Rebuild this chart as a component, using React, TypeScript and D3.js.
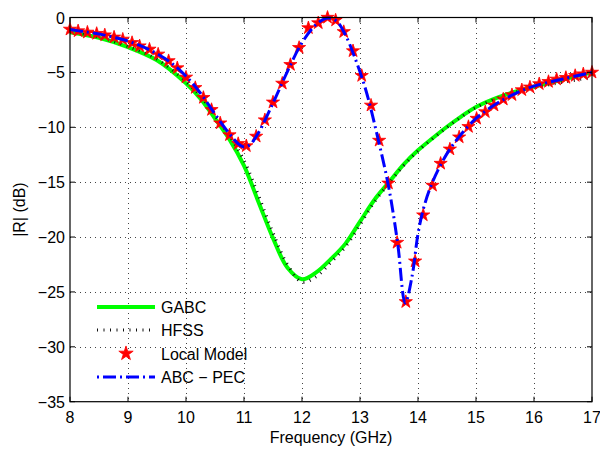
import React from "react";
import * as d3 from "d3";

// ---- Data ----
const xTicks = [8, 9, 10, 11, 12, 13, 14, 15, 16, 17];
const yTicks = [0, -5, -10, -15, -20, -25, -30, -35];

const gabcFreq = [8.0, 8.5, 9.0, 9.5, 10.0, 10.25, 10.5, 10.75, 11.0, 11.25, 11.5, 11.75, 12.0, 12.25, 12.5, 12.75, 13.0, 13.25, 13.5, 13.75, 14.0, 14.25, 14.5, 14.75, 15.0, 15.25, 15.5, 15.75, 16.0, 16.5, 17.0];
const gabcDb = [-1.35, -1.85, -2.7, -3.9, -6.0, -7.4, -9.2, -11.1, -13.5, -16.8, -20.1, -22.8, -23.85, -23.2, -22.0, -20.6, -18.6, -16.6, -15.0, -13.4, -12.1, -11.0, -9.95, -9.0, -8.15, -7.55, -7.05, -6.65, -6.3, -5.65, -5.0];

const hfssFreq = [8.0, 8.5, 9.0, 9.5, 10.0, 10.25, 10.5, 10.75, 11.0, 11.25, 11.5, 11.75, 12.0, 12.25, 12.5, 12.75, 13.0, 13.25, 13.5, 13.75, 14.0, 14.25, 14.5, 14.75, 15.0, 15.5, 16.0, 16.5, 17.0];
const hfssDb = [-1.3, -1.8, -2.65, -3.8, -5.85, -7.2, -8.95, -10.8, -13.0, -16.2, -19.6, -22.5, -24.1, -23.6, -22.3, -20.9, -18.9, -16.8, -15.1, -13.5, -12.15, -11.05, -10.0, -9.05, -8.2, -7.1, -6.4, -5.9, -5.45];

const localFreq = [8.0, 8.14, 8.3, 8.46, 8.6, 8.76, 8.91, 9.07, 9.2, 9.37, 9.52, 9.7, 9.85, 10.0, 10.16, 10.3, 10.44, 10.59, 10.75, 10.9, 11.04, 11.21, 11.36, 11.5, 11.66, 11.8, 11.95, 12.11, 12.28, 12.44, 12.58, 12.72, 12.88, 13.03, 13.19, 13.33, 13.49, 13.64, 13.79, 13.95, 14.09, 14.25, 14.39, 14.55, 14.71, 14.87, 15.01, 15.16, 15.31, 15.47, 15.62, 15.79, 15.93, 16.09, 16.25, 16.39, 16.55, 16.71, 16.85, 17.0];
const localDb = [-1.08, -1.23, -1.35, -1.47, -1.6, -1.8, -1.99, -2.3, -2.6, -2.9, -3.35, -3.95, -4.6, -5.45, -6.4, -7.3, -8.4, -9.62, -10.7, -11.5, -11.7, -10.83, -9.34, -7.72, -6.0, -4.3, -2.75, -0.95, -0.5, 0.0, -0.25, -1.3, -3.05, -5.3, -8.0, -11.2, -15.1, -20.5, -25.9, -22.2, -18.0, -15.3, -13.3, -12.0, -10.9, -9.95, -9.2, -8.6, -8.0, -7.45, -7.05, -6.6, -6.35, -6.05, -5.85, -5.63, -5.48, -5.3, -5.15, -5.0];

const abcFreq = [8.0, 8.25, 8.5, 8.75, 9.0, 9.25, 9.5, 9.75, 10.0, 10.25, 10.5, 10.75, 10.9, 11.0, 11.1, 11.25, 11.5, 11.75, 12.0, 12.25, 12.45, 12.6, 12.75, 12.9, 13.1, 13.3, 13.5, 13.65, 13.78, 13.9, 14.0, 14.1, 14.25, 14.5, 14.75, 15.0, 15.25, 15.5, 15.75, 16.0, 16.5, 17.0];
const abcDb = [-1.1, -1.3, -1.5, -1.8, -2.15, -2.65, -3.3, -4.15, -5.35, -6.9, -8.8, -10.6, -11.5, -11.8, -11.6, -10.5, -7.8, -4.9, -2.3, -0.6, -0.05, -0.35, -1.6, -3.5, -6.6, -10.8, -15.6, -20.6, -26.0, -23.5, -19.7, -17.3, -15.0, -12.4, -10.6, -9.2, -8.2, -7.4, -6.75, -6.25, -5.6, -5.0];

const legendLabels = ["GABC", "HFSS", "Local Model", "ABC \u2212 PEC"];

const W = 600;
const H = 449;
const M = { left: 70, right: 592, top: 17.5, bottom: 401.7 };
const FONT = "'Liberation Sans', Arial, Helvetica, sans-serif";
const FS = 16;

function fmt(v: number) {
  return v < 0 ? "\u2212" + Math.abs(v) : String(v);
}

export default function App() {
  const x = d3.scaleLinear().domain([8, 17]).range([M.left, M.right]);
  const y = d3.scaleLinear().domain([-35, 0]).range([M.bottom, M.top]);

  const line = d3
    .line<[number, number]>()
    .x((d) => x(d[0]))
    .y((d) => y(d[1]))
    .curve(d3.curveCatmullRom.alpha(0.5));

  const zip = (a: number[], b: number[]) => a.map((v, i) => [v, b[i]] as [number, number]);

  const gabcPath = line(zip(gabcFreq, gabcDb)) || "";
  const hfssPath = line(zip(hfssFreq, hfssDb)) || "";
  const abcPath = line(zip(abcFreq, abcDb)) || "";
  const starPath = d3.symbol().type(d3.symbolStar).size(54)() || "";
  const starLegend = d3.symbol().type(d3.symbolStar).size(64)() || "";

  const tickLen = 5;
  const legendY = [307, 330, 353.5, 377];

  return (
    <svg
      width={W}
      height={H}
      style={{ position: "absolute", left: 0, top: 0, background: "#fff" }}
    >
      <rect x={0} y={0} width={W} height={H} fill="#fff" />
      {/* grid */}
      <g stroke="#444" strokeWidth={1} strokeDasharray="1,4" shapeRendering="crispEdges">
        {xTicks.slice(1, -1).map((t) => (
          <line key={"gx" + t} x1={Math.round(x(t)) + 0.5} x2={Math.round(x(t)) + 0.5} y1={M.top} y2={M.bottom} />
        ))}
        {yTicks.slice(1, -1).map((t) => (
          <line key={"gy" + t} x1={M.left} x2={M.right} y1={Math.round(y(t)) + 0.5} y2={Math.round(y(t)) + 0.5} />
        ))}
      </g>

      {/* curves */}
      <path d={gabcPath} fill="none" stroke="#00ff00" strokeWidth={4} />
      <path d={hfssPath} fill="none" stroke="#111" strokeWidth={3} strokeDasharray="1,5.5" />
      {localFreq.map((f, i) => (
        <path
          key={"s" + i}
          d={starPath}
          transform={`translate(${x(f)},${y(localDb[i])})`}
          fill="#ff0000"
          stroke="#ff0000"
          strokeWidth={0.8}
        />
      ))}
      <path d={abcPath} fill="none" stroke="#0000ff" strokeWidth={3} strokeDasharray="13,4,2,4" />

      {/* box */}
      <rect x={M.left} y={M.top} width={M.right - M.left} height={M.bottom - M.top} fill="none" stroke="#000" strokeWidth={1.2} />

      {/* ticks */}
      <g stroke="#000" strokeWidth={1}>
        {xTicks.map((t) => (
          <g key={"tx" + t}>
            <line x1={x(t)} x2={x(t)} y1={M.bottom} y2={M.bottom - tickLen} />
            <line x1={x(t)} x2={x(t)} y1={M.top} y2={M.top + tickLen} />
          </g>
        ))}
        {yTicks.map((t) => (
          <g key={"ty" + t}>
            <line x1={M.left} x2={M.left + tickLen} y1={y(t)} y2={y(t)} />
            <line x1={M.right} x2={M.right - tickLen} y1={y(t)} y2={y(t)} />
          </g>
        ))}
      </g>

      {/* tick labels */}
      <g fontFamily={FONT} fontSize={FS} fill="#000">
        {xTicks.map((t) => (
          <text key={"lx" + t} x={x(t)} y={423} textAnchor="middle">
            {fmt(t)}
          </text>
        ))}
        {yTicks.map((t) => (
          <text key={"ly" + t} x={65} y={y(t) + 6} textAnchor="end">
            {fmt(t)}
          </text>
        ))}
        <text x={(M.left + M.right) / 2} y={443} textAnchor="middle">
          Frequency (GHz)
        </text>
        <text transform={`translate(25,${(M.top + M.bottom) / 2}) rotate(-90)`} textAnchor="middle">
          |R| (dB)
        </text>
      </g>

      {/* legend */}
      <g fontFamily={FONT} fontSize={FS} fill="#000">
        <line x1={97} x2={155} y1={legendY[0]} y2={legendY[0]} stroke="#00ff00" strokeWidth={4} />
        <line x1={97} x2={155} y1={legendY[1]} y2={legendY[1]} stroke="#111" strokeWidth={3} strokeDasharray="1,5.5" />
        <path d={starLegend} transform={`translate(126,${legendY[2]})`} fill="#ff0000" stroke="#ff0000" strokeWidth={0.8} />
        <line x1={97} x2={155} y1={legendY[3]} y2={legendY[3]} stroke="#0000ff" strokeWidth={3} strokeDasharray="2,4,13,4" />
        {legendLabels.map((l, i) => (
          <text key={"lg" + i} x={161} y={legendY[i] + 6}>
            {l}
          </text>
        ))}
      </g>
    </svg>
  );
}
